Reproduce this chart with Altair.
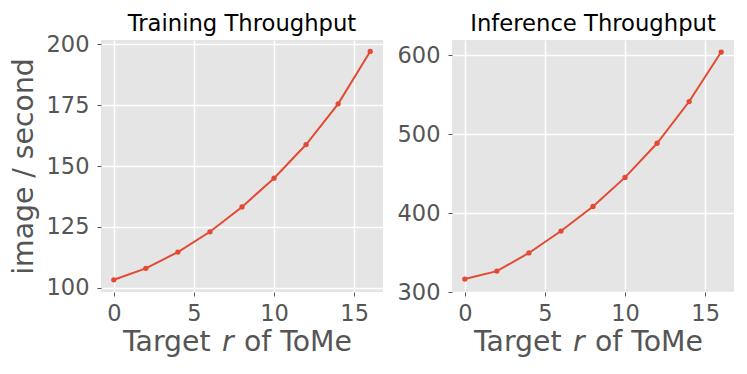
import altair as alt
import pandas as pd

r_values = [0, 2, 4, 6, 8, 10, 12, 14, 16]
training = [103.3, 108.0, 114.7, 123.0, 133.2, 145.0, 158.8, 175.5, 197.0]
inference = [316.4, 326.5, 349.5, 377.3, 408.4, 445.3, 488.6, 541.5, 604.2]

x_ticks = [0, 5, 10, 15]
train_ticks = [100, 125, 150, 175, 200]
infer_ticks = [300, 400, 500, 600]

FONT = "DejaVu Sans"
RED = "#E24A33"
GRAY = "#555555"
W, H = 282, 252


def panel(values, title, ydomain, yticks, ytitle, toffset):
    df = pd.DataFrame({"r": r_values, "v": values})
    base = alt.Chart(df)
    x = alt.X("r:Q", scale=alt.Scale(domain=[-0.8, 16.8], nice=False, zero=False),
              axis=alt.Axis(values=x_ticks, title=None, tickSize=4, labelPadding=6,
                            labelFontSize=22.5, labelColor=GRAY, tickColor=GRAY,
                            gridColor="white", gridWidth=1.5, domain=False,
                            labelFont=FONT))
    y = alt.Y("v:Q", scale=alt.Scale(domain=ydomain, nice=False, zero=False),
              axis=alt.Axis(values=yticks, title=ytitle, tickSize=4, labelPadding=8,
                            labelFontSize=22.5, labelColor=GRAY, tickColor=GRAY,
                            gridColor="white", gridWidth=1.5, domain=False,
                            labelFont=FONT, titleFont=FONT, titleFontSize=28.3,
                            titleFontWeight="normal", titleColor=GRAY,
                            titlePadding=8))
    line = base.mark_line(color=RED, strokeWidth=2).encode(x=x, y=y)
    pts = base.mark_circle(color=RED, size=28, opacity=1).encode(x="r:Q", y="v:Q")
    one = alt.Data(values=[{"a": 1}])
    common = dict(font=FONT, fontSize=28.3, color=GRAY, align="left", baseline="alphabetic")
    t1 = alt.Chart(one).mark_text(text="Target", **common).encode(
        x=alt.value(22), y=alt.value(311))
    t2 = alt.Chart(one).mark_text(text="r", fontStyle="italic", **common).encode(
        x=alt.value(121), y=alt.value(311))
    t3 = alt.Chart(one).mark_text(text="of ToMe", **common).encode(
        x=alt.value(143), y=alt.value(311))
    return alt.layer(line, pts, t1, t2, t3).properties(
        width=W, height=H,
        title=alt.TitleParams(title, font=FONT, fontSize=22.7, fontWeight="normal",
                              color="black", offset=toffset))


left = panel(training, "Training Throughput", [98.3, 201.7], train_ticks, "image / second", -3)
right = panel(inference, "Inference Throughput", [300, 619.5], infer_ticks, None, 4)

chart = alt.hconcat(left, right, spacing=69, bounds="flush").properties(
    padding={"left": 1, "top": 5, "right": 5, "bottom": 5}
).configure(
    background="white"
).configure_view(fill="#E5E5E5", strokeWidth=0)

chart.save("out.html", embed_options={"renderer": "svg", "actions": False})
